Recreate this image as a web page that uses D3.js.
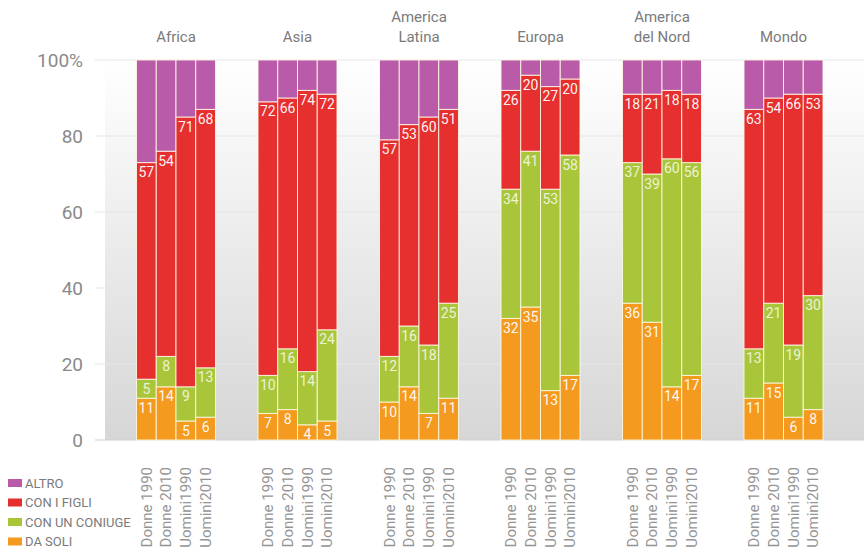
<!DOCTYPE html>
<html>
<head>
<meta charset="utf-8">
<script src="https://cdn.jsdelivr.net/npm/d3@7"></script>
<style>
  body { margin: 0; background: #fff; }
  svg { display: block; font-family: Roboto, "Noto Sans", sans-serif; }
  .tick-label { fill: #8a8a8a; font-size: 19px; }
  .region { fill: #7a7a7a; font-size: 15px; }
  .seg-label { fill: #fff; font-size: 14px; }
  .bar-name { fill: #959595; font-size: 15px; }
  .legend-text { fill: #7a7a7a; font-size: 13px; }
</style>
</head>
<body>
<div class="chart"></div>
<script>
// regions and bars inside every region
const regions = ["Africa", "Asia", "America Latina", "Europa", "America del Nord", "Mondo"];
const barNames = ["Donne 1990", "Donne 2010", "Uomini1990", "Uomini2010"];
const yTicks = [0, 20, 40, 60, 80, 100];

// values, one row per region, one entry per bar (percent)
const daSoli   = [[11, 14, 5, 6], [7, 8, 4, 5], [10, 14, 7, 11], [32, 35, 13, 17], [36, 31, 14, 17], [11, 15, 6, 8]];
const coniuge  = [[5, 8, 9, 13], [10, 16, 14, 24], [12, 16, 18, 25], [34, 41, 53, 58], [37, 39, 60, 56], [13, 21, 19, 30]];
const figli    = [[57, 54, 71, 68], [72, 66, 74, 62], [57, 53, 60, 51], [26, 20, 27, 20], [18, 21, 18, 18], [63, 54, 66, 53]];
const altro    = [[27, 24, 15, 13], [11, 10, 8, 9], [21, 17, 15, 13], [8, 4, 7, 5], [9, 9, 8, 9], [13, 10, 9, 9]];
// printed numbers on the red part (one differs from the bar in the source)
const figliLabels = [[57, 54, 71, 68], [72, 66, 74, 72], [57, 53, 60, 51], [26, 20, 27, 20], [18, 21, 18, 18], [63, 54, 66, 53]];

const seriesNames = ["DA SOLI", "CON UN CONIUGE", "CON I FIGLI", "ALTRO"];
const colors = ["#f39a1f", "#a9c63a", "#e5302f", "#b95ba8"];

const width = 864;
const height = 552;

const svg = d3.select(".chart")
    .append("svg")
    .attr("width", width)
    .attr("height", height);

const y = d3.scaleLinear().domain([0, 100]).range([440, 60]);

const x0 = d3.scaleBand()
    .domain(regions)
    .range([115.25, 844.25])
    .paddingInner(0.35)
    .paddingOuter(0.175);

const x1 = d3.scaleBand()
    .domain(barNames)
    .range([0, x0.bandwidth()]);

// background panel with gradient
const defs = svg.append("defs");
const grad = defs.append("linearGradient")
    .attr("id", "bg")
    .attr("x1", 0).attr("y1", 0).attr("x2", 0).attr("y2", 1);
grad.append("stop").attr("offset", "0%").attr("stop-color", "#ffffff");
grad.append("stop").attr("offset", "100%").attr("stop-color", "#d6d6d6");

svg.append("rect")
    .attr("x", 105)
    .attr("y", y(100))
    .attr("width", width - 105)
    .attr("height", y(0) - y(100))
    .attr("fill", "url(#bg)");

// gridlines
svg.selectAll(".grid")
    .data(yTicks)
    .enter()
    .append("line")
    .attr("x1", 95)
    .attr("x2", width)
    .attr("y1", d => y(d))
    .attr("y2", d => y(d))
    .attr("stroke", d => d === 0 ? "#cfcfcf" : "#e6e6e6")
    .attr("stroke-width", 1.2);

svg.selectAll(".tick-label")
    .data(yTicks)
    .enter()
    .append("text")
    .attr("class", "tick-label")
    .attr("text-anchor", "end")
    .attr("x", 83)
    .attr("y", d => y(d))
    .attr("dy", "0.36em")
    .text(d => d === 100 ? "100%" : d);

// build stacked rows
const rows = [];
regions.forEach((r, i) => {
    barNames.forEach((b, j) => {
        const vals = [daSoli[i][j], coniuge[i][j], figli[i][j], altro[i][j]];
        const labs = [daSoli[i][j], coniuge[i][j], figliLabels[i][j], null];
        let acc = 0;
        vals.forEach((v, k) => {
            rows.push({ region: r, bar: b, k: k, y0: acc, y1: acc + v, label: labs[k] });
            acc += v;
        });
    });
});

const groups = svg.append("g");

groups.selectAll("rect")
    .data(rows)
    .enter()
    .append("rect")
    .attr("x", d => x0(d.region) + x1(d.bar))
    .attr("width", x1.bandwidth())
    .attr("y", d => y(d.y1))
    .attr("height", d => y(d.y0) - y(d.y1))
    .attr("fill", d => colors[d.k])
    .attr("stroke", "#fffbe8")
    .attr("stroke-opacity", 0.85)
    .attr("stroke-width", 1);

groups.selectAll(".seg-label")
    .data(rows.filter(d => d.label !== null))
    .enter()
    .append("text")
    .attr("class", "seg-label")
    .attr("text-anchor", "middle")
    .attr("fill-opacity", d => d.k === 1 ? 0.8 : 0.95)
    .attr("x", d => x0(d.region) + x1(d.bar) + x1.bandwidth() / 2)
    .attr("y", d => y(d.y1) + 14.5)
    .text(d => d.label);

// region titles
const titles = svg.selectAll(".region")
    .data(regions)
    .enter()
    .append("text")
    .attr("class", "region")
    .attr("text-anchor", "middle")
    .attr("x", d => x0(d) + x0.bandwidth() / 2);

titles.each(function(d) {
    const t = d3.select(this);
    const parts = d.startsWith("America") ? ["America", d.slice(8)] : [d];
    parts.forEach((p, i) => {
        t.append("tspan")
            .attr("x", x0(d) + x0.bandwidth() / 2)
            .attr("y", parts.length === 2 ? 22 + i * 20 : 42)
            .text(p);
    });
});

// bar names under the axis
regions.forEach(r => {
    svg.selectAll(null)
        .data(barNames)
        .enter()
        .append("text")
        .attr("class", "bar-name")
        .attr("text-anchor", "end")
        .attr("transform", d => `translate(${x0(r) + x1(d) + x1.bandwidth() / 2},467) rotate(-90)`)
        .attr("dy", "0.35em")
        .text(d => d);
});

// legend
const legendOrder = [3, 2, 1, 0];
const legend = svg.selectAll(".legend")
    .data(legendOrder)
    .enter()
    .append("g")
    .attr("transform", (d, i) => `translate(8,${483 + i * 19.5})`);

legend.append("rect")
    .attr("x", 0)
    .attr("y", -4)
    .attr("width", 14)
    .attr("height", 8)
    .attr("fill", d => colors[d]);

legend.append("text")
    .attr("class", "legend-text")
    .attr("x", 17)
    .attr("dy", "0.36em")
    .text(d => seriesNames[d]);
</script>
</body>
</html>
